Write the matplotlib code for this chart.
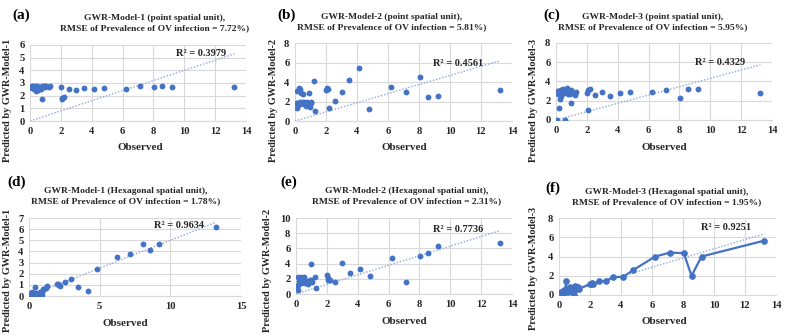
import matplotlib
matplotlib.use("Agg")
import matplotlib.pyplot as plt
import numpy as np

plt.rcParams['font.family'] = ['Liberation Serif', 'DejaVu Serif']
plt.rcParams['font.weight'] = 'bold'

# ---------------- data ----------------
observed = [0.05, 0.1, 0.12, 0.15, 0.2, 0.25, 0.3, 0.32, 0.35, 0.4, 0.45, 0.5,
            0.55, 0.6, 0.7, 0.75, 0.8, 0.9, 0.95, 1.0, 1.05, 1.2, 1.3, 2.0,
            2.05, 2.1, 2.2, 2.55, 3.0, 3.5, 4.15, 4.8, 6.2, 7.15, 8.05, 8.55,
            9.2, 13.25]

pred_a = [2.7, 2.75, 2.6, 2.8, 2.65, 2.55, 2.75, 2.7, 2.5, 2.4, 2.75, 2.45,
          2.6, 2.7, 2.55, 1.7, 2.8, 2.75, 2.7, 2.8, 2.75, 2.7, 2.75, 2.7,
          1.75, 1.8, 1.9, 2.5, 2.45, 2.6, 2.55, 2.6, 2.55, 2.75, 2.7, 2.75,
          2.65, 2.65]

pred_b = [1.8, 1.35, 1.8, 3.1, 1.6, 3.4, 1.75, 3.3, 2.0, 2.9, 1.9, 2.8,
          1.7, 2.0, 1.5, 1.9, 1.6, 2.85, 1.4, 1.9, 1.8, 4.15, 1.05, 3.2,
          3.4, 3.3, 1.3, 2.1, 3.0, 4.25, 5.45, 1.25, 3.45, 2.95, 4.5, 2.5,
          2.55, 3.2]

pred_c = [0.05, 3.05, 2.7, 3.0, 1.25, 2.2, 2.5, 3.1, 3.15, 2.95, 3.2, 3.0,
          2.85, 0.05, 3.3, 2.9, 2.75, 2.7, 1.8, 3.1, 2.9, 2.6, 2.95, 2.85,
          1.05, 3.1, 3.2, 2.55, 2.95, 2.5, 2.85, 2.95, 2.95, 3.15, 2.3, 3.2,
          3.25, 2.8]

pred_d = [0.1, 0.2, 0.05, 0.3, 0.35, 0.15, 0.3, 0.25, 0.1, 0.2, 0.85, 0.3,
          0.2, 0.1, 0.25, 0.35, 0.15, 0.05, 0.4, 0.6, 0.65, 0.75, 0.9, 1.05,
          1.1, 0.95, 0.9, 1.25, 1.55, 0.8, 0.45, 2.45, 3.5, 3.8, 4.7, 4.1,
          4.7, 6.15]

pred_e = [0.9, 0.5, 1.2, 2.3, 1.7, 2.0, 2.3, 1.4, 2.1, 1.9, 1.6, 2.2,
          1.8, 1.5, 1.7, 1.3, 1.5, 1.8, 3.9, 1.9, 1.6, 2.2, 0.8, 2.5,
          2.1, 1.9, 1.8, 1.6, 4.05, 2.7, 3.35, 2.35, 4.8, 1.55, 5.05, 5.35,
          6.3, 6.7]

pred_f = [0.15, 0.2, 0.1, 0.3, 0.25, 0.05, 0.4, 0.3, 0.5, 0.35, 1.5, 0.4,
          0.6, 0.3, 0.8, 0.5, 0.45, 0.7, 0.05, 0.55, 0.9, 0.85, 0.65, 1.15,
          1.1, 1.2, 1.1, 1.45, 1.45, 1.85, 1.9, 2.6, 4.0, 4.4, 4.35, 2.0,
          4.0, 5.65]

trend_slopes = [0.40, 0.467, 0.433, 0.50, 0.63, 0.48]
r2_labels = ["R² = 0.3979", "R² = 0.4561", "R² = 0.4329",
             "R² = 0.9634", "R² = 0.7736", "R² = 0.9251"]
panel_letters = ["(a)", "(b)", "(c)", "(d)", "(e)", "(f)"]
titles = ["GWR-Model-1 (point spatial unit),\nRMSE of Prevalence of OV infection = 7.72%)",
          "GWR-Model-2 (point spatial unit),\nRMSE of Prevalence of OV infection = 5.81%)",
          "GWR-Model-3 (point spatial unit),\nRMSE of Prevalence of OV infection = 5.95%)",
          "GWR-Model-1 (Hexagonal spatial unit),\nRMSE of Prevalence of OV infection = 1.78%)",
          "GWR-Model-2 (Hexagonal spatial unit),\nRMSE of Prevalence of OV infection = 2.31%)",
          "GWR-Model-3 (Hexagonal spatial unit),\nRMSE of Prevalence of OV infection = 1.95%)"]
ylabels = ["Predicted by GWR-Model-1", "Predicted by GWR-Model-2", "Predicted by GWR-Model-3",
           "Predicted by GWR-Model-1", "Predicted by GWR-Model-2", "Predicted by GWR-Model-3"]
preds = [pred_a, pred_b, pred_c, pred_d, pred_e, pred_f]

# ---------------- layout (pixels) ----------------
W, H = 788, 335
fig = plt.figure(figsize=(W / 100, H / 100), dpi=100)

# left, right, bottom(y0), top (pixel coords from top-left)
rects = [(30, 246, 121, 45), (295, 512, 121, 43), (556, 772, 120, 43),
         (29, 241, 296, 218), (296, 512, 294, 218), (559, 776, 295, 218)]
xlims = [(0, 14), (0, 14), (0, 14), (0, 15), (0, 14), (0, 14)]
xticks = [np.arange(0, 15, 2)] * 3 + [np.arange(0, 16, 5)] + [np.arange(0, 15, 2)] * 2
ylims = [(0, 6), (0, 8), (0, 8), (0, 7), (0, 10), (0, 8)]
yticks = [np.arange(0, 7, 1), np.arange(0, 9, 2), np.arange(0, 9, 2),
          np.arange(0, 8, 1), np.arange(0, 11, 2), np.arange(0, 9, 2)]
r2_pos = [(0.79, 0.89), (0.75, 0.74), (0.76, 0.75), (0.71, 0.91), (0.75, 0.855), (0.77, 0.88)]
letter_pos = [(12, 15), (277, 15), (543, 15), (7, 182), (280, 182), (545, 188)]
title_pos = [(155, 23), (392, 22), (653, 22), (126, 196), (407, 196), (667, 197)]
xlabel_pos = [(140, 147), (404, 147), (664, 147), (125, 324), (404, 321), (664, 321)]
ylabel_pos = [(8, 100), (273, 100), (533, 100), (8, 270), (267, 270), (533, 268)]

blue = "#4472C4"
trend_col = "#8EA9DB"
grid_col = "#D9D9D9"
text_col = "#262626"

for i in range(6):
    l, r, b, t = rects[i]
    ax = fig.add_axes([l / W, 1 - b / H, (r - l) / W, (b - t) / H])
    x = np.array(observed)
    y = np.array(preds[i])
    if i == 5:
        order = np.argsort(x, kind="stable")
        ax.plot(x[order], y[order], color=blue, lw=1.6, marker='o', ms=3.8, zorder=3)
    else:
        ax.plot(x, y, 'o', color=blue, ms=4.2, zorder=3, markeredgewidth=0)
    xe = x.max()
    ax.plot([0, xe], [0, trend_slopes[i] * xe], color=trend_col, lw=1.0,
            linestyle=(0, (1, 1.3)), zorder=2)
    ax.set_xlim(*xlims[i])
    ax.set_ylim(*ylims[i])
    ax.set_xticks(xticks[i])
    ax.set_yticks(yticks[i])
    ax.grid(True, color=grid_col, lw=0.8)
    ax.set_axisbelow(True)
    for s in ['top', 'right', 'left']:
        ax.spines[s].set_visible(False)
    ax.spines['bottom'].set_color(grid_col)
    ax.tick_params(length=0, labelsize=7.6, colors=text_col, pad=4)
    for lab in ax.get_xticklabels() + ax.get_yticklabels():
        lab.set_fontweight('bold')
    ax.text(r2_pos[i][0], r2_pos[i][1], r2_labels[i], transform=ax.transAxes,
            ha='center', va='center', fontsize=7.5, fontweight='bold', color=text_col)
    fig.text(letter_pos[i][0] / W, 1 - letter_pos[i][1] / H, panel_letters[i],
             ha='left', va='center', fontsize=11, fontweight='bold', color='black')
    fig.text(title_pos[i][0] / W, 1 - title_pos[i][1] / H, titles[i],
             ha='center', va='center', fontsize=6.8, fontweight='bold', color=text_col,
             linespacing=1.45)
    fig.text(xlabel_pos[i][0] / W, 1 - xlabel_pos[i][1] / H, "Observed",
             ha='center', va='center', fontsize=8, fontweight='bold', color=text_col)
    fig.text(ylabel_pos[i][0] / W, 1 - ylabel_pos[i][1] / H, ylabels[i],
             ha='center', va='center', fontsize=7.4, fontweight='bold', color=text_col,
             rotation=90)

fig.savefig("out.png", dpi=100, facecolor='white')
